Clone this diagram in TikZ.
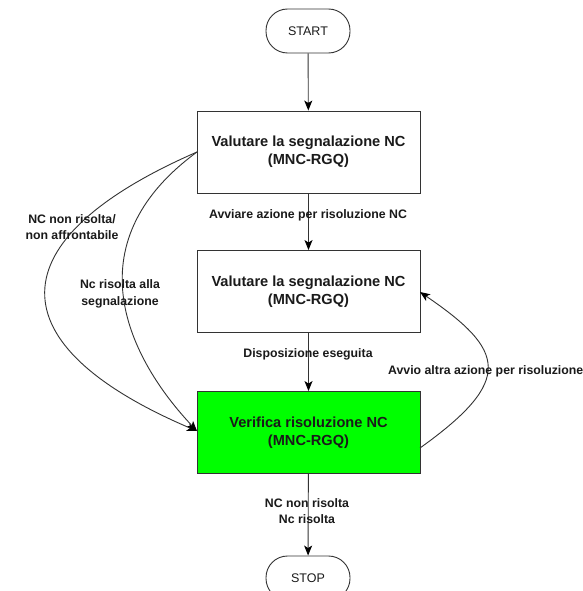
\documentclass[tikz,border=0pt]{standalone}
\usepackage{fontspec}
\setmainfont{Liberation Sans}
\usetikzlibrary{arrows.meta}
\definecolor{linec}{HTML}{333333}
\definecolor{txtc}{HTML}{1A1A1A}
\definecolor{boxgreen}{HTML}{00FF00}
\begin{document}
\begin{tikzpicture}[x=1pt,y=-1pt,
  terminal/.style={draw=linec,line width=0.9pt,rounded corners=21.5pt,minimum width=84pt,minimum height=44pt,inner sep=0pt,font=\fontsize{12.5}{15}\selectfont,text=txtc},
  procbox/.style={draw=linec,line width=0.9pt,minimum width=223pt,minimum height=82pt,inner sep=0pt,align=center,font=\fontsize{14.6}{18}\selectfont\bfseries,text=txtc},
  lbl/.style={align=center,inner sep=0pt,font=\fontsize{12.3}{16.5}\selectfont\bfseries,text=txtc},
  conn/.style={draw=linec,line width=0.9pt,-{Stealth[length=10pt,width=8pt,inset=2.5pt,color=black]}}]
\useasboundingbox (0,0) rectangle (582,591);
\fill[white] (0,0) rectangle (582,591);
\node[terminal] (start) at (308,31) {START};
\node[procbox] (b1) at (308.5,152) {Valutare la segnalazione NC\\(MNC-RGQ)};
\node[procbox] (b2) at (308.5,291.5) {Valutare la segnalazione NC\\(MNC-RGQ)};
\node[procbox,fill=boxgreen] (b3) at (308.5,432.5) {Verifica risoluzione NC\\(MNC-RGQ)};
\node[terminal] (stop) at (308,578) {STOP};
\coordinate (b1w) at (197,152);
\coordinate (b3w) at (197,431);
\coordinate (b3e) at (420,448);
\coordinate (b2e) at (420,292);
\draw[conn] (start) -- (b1);
\draw[conn] (b1) -- (b2);
\draw[conn] (b2) -- (b3);
\draw[conn] (b3) -- (stop);
\draw[conn] (b1w) .. controls (-5,240) and (-5,345) .. (b3w);
\draw[conn] (b1w) .. controls (70,245) and (130,360) .. (b3w);
\draw[conn] (b3e) .. controls (515,380) and (505,350) .. (b2e);
\node[lbl] (l1) at (308,215) {Avviare azione per risoluzione NC};
\node[lbl] (l2) at (308,354) {Disposizione eseguita};
\node[lbl] (l3) at (307,511) {NC non risolta\\Nc risolta};
\node[lbl] (l4) at (72,227) {NC non risolta/\\non affrontabile};
\node[lbl] (l5) at (120,294) {Nc risolta alla\\segnalazione};
\node[lbl,anchor=west] (l6) at (388,371) {Avvio altra azione per risoluzione};
\end{tikzpicture}
\end{document}
